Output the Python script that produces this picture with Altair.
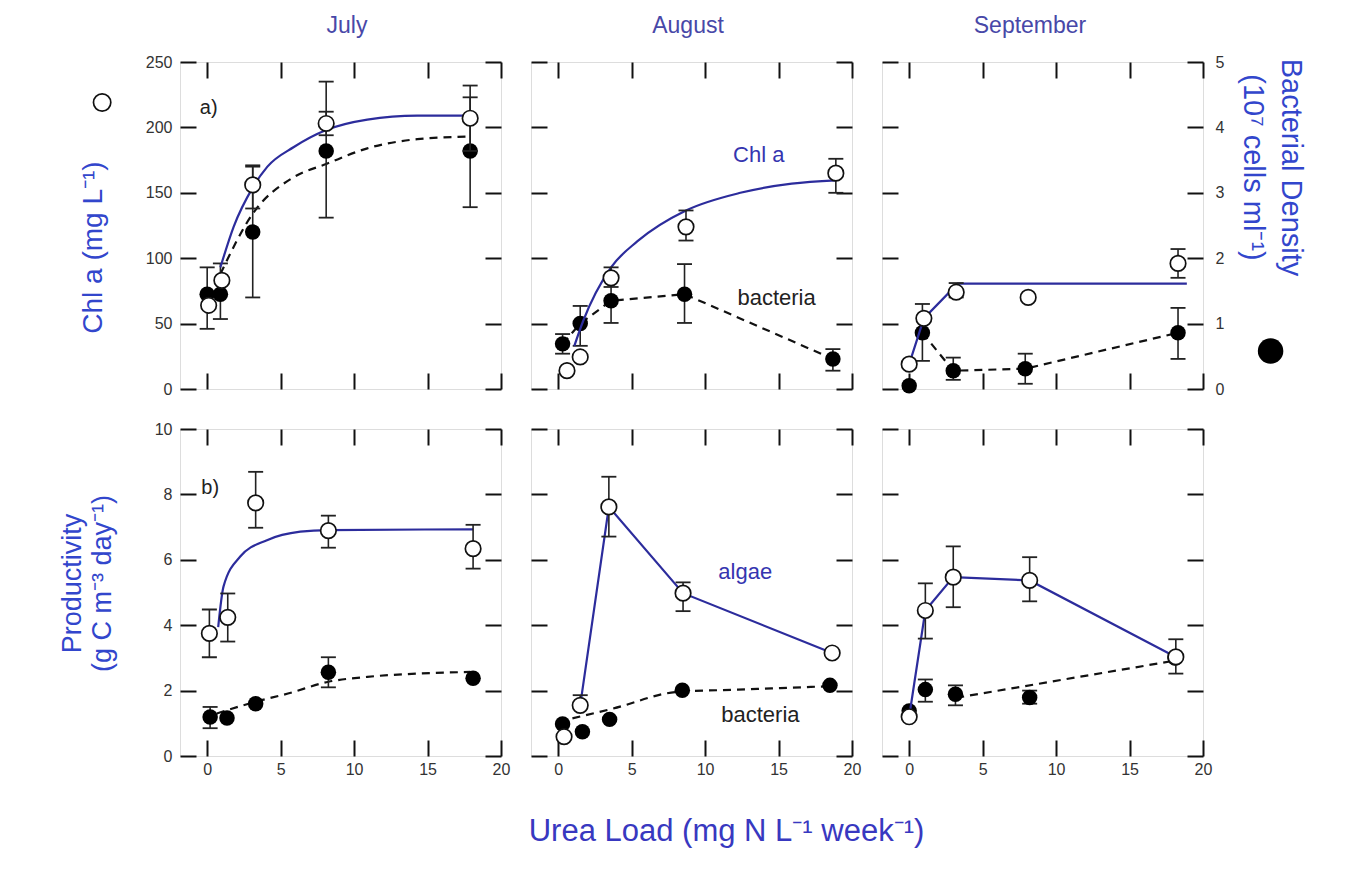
import altair as alt
import pandas as pd

FONT = "Liberation Sans"
BLUE_LINE = "#2c2c9c"
BLUE_COL = "#4848a8"
BLUE_AX = "#3246cc"
BLUE_ANN = "#3535b0"
INK = "#111111"

XTICKS = [0, 5, 10, 15, 20]
XDOM = [-1.85, 20]

# ---------------- top row: Chl a (open) and bacterial density (filled, 10^7 cells/ml)
jul_chl_x = [0.1, 1.0, 3.1, 8.1, 17.9]
jul_chl = [64, 83, 156, 203, 207]
jul_chl_lo = [None, None, 138, 194, 182]
jul_chl_hi = [None, None, 171, 212, 232]
jul_chl_fit_x = [0.9, 1.8, 3.1, 4.1, 5.9, 8.1, 10.9, 14.3, 18.0]
jul_chl_fit = [93, 124, 154, 170, 185, 198, 206, 209, 209]
jul_bd_x = [0.0, 0.9, 3.1, 8.1, 17.9]
jul_bd = [1.45, 1.45, 2.4, 3.64, 3.64]
jul_bd_lo = [0.92, 1.07, 1.4, 2.62, 2.78]
jul_bd_hi = [1.86, 1.92, 3.4, 4.7, 4.46]
jul_bd_fit_x = [0.9, 3.1, 5.9, 8.1, 10.9, 14.3, 17.8]
jul_bd_fit = [1.76, 2.68, 3.24, 3.44, 3.68, 3.82, 3.86]

aug_chl_x = [0.6, 1.5, 3.6, 8.7, 18.9]
aug_chl = [14, 24.5, 85, 124, 165]
aug_chl_lo = [None, None, 78, 113.5, 150]
aug_chl_hi = [None, None, 93, 136.5, 176]
aug_chl_fit_x = [1.1, 1.7, 3.6, 5.4, 8.7, 12.4, 15.9, 18.9]
aug_chl_fit = [33, 52, 93, 113, 136.5, 150, 157, 159.5]
aug_bd_x = [0.3, 1.5, 3.6, 8.6, 18.7]
aug_bd = [0.69, 1.0, 1.35, 1.45, 0.46]
aug_bd_lo = [0.54, 0.66, 1.01, 1.01, 0.28]
aug_bd_hi = [0.84, 1.27, 1.69, 1.91, 0.61]

sep_chl_x = [0.0, 1.0, 3.2, 8.1, 18.3]
sep_chl = [19, 54, 74, 70, 96]
sep_chl_lo = [None, None, 70, None, 85]
sep_chl_hi = [None, None, 81, None, 107]
sep_chl_fit_x = [0.0, 1.0, 3.3, 18.9]
sep_chl_fit = [19, 54, 80.5, 80.5]
sep_bd_x = [0.0, 0.9, 3.0, 7.9, 18.3]
sep_bd = [0.05, 0.86, 0.28, 0.31, 0.86]
sep_bd_lo = [None, 0.43, 0.14, 0.08, 0.46]
sep_bd_hi = [None, 1.30, 0.48, 0.54, 1.24]

# ---------------- bottom row: productivity of algae (open) and bacteria (filled)
jul_alg_x = [0.15, 1.4, 3.3, 8.25, 18.1]
jul_alg = [3.75, 4.24, 7.74, 6.89, 6.34]
jul_alg_lo = [3.02, 3.5, 6.98, 6.37, 5.73]
jul_alg_hi = [4.48, 4.97, 8.69, 7.35, 7.07]
jul_alg_fit_x = [0.75, 1.11, 2.25, 4.07, 6.34, 8.25, 18.1]
jul_alg_fit = [3.94, 5.18, 6.1, 6.6, 6.86, 6.91, 6.93]
jul_bp_x = [0.2, 1.35, 3.3, 8.25, 18.1]
jul_bp = [1.19, 1.16, 1.6, 2.56, 2.38]
jul_bp_lo = [0.85, None, None, 2.1, None]
jul_bp_hi = [1.5, None, None, 3.02, None]
jul_bp_fit_x = [0.65, 3.3, 5.5, 8.25, 10.9, 14.3, 17.9]
jul_bp_fit = [1.30, 1.66, 1.91, 2.27, 2.42, 2.52, 2.57]

aug_alg_x = [0.4, 1.5, 3.45, 8.5, 18.65]
aug_alg = [0.59, 1.55, 7.62, 4.98, 3.15]
aug_alg_lo = [None, 1.55, 6.71, 4.43, None]
aug_alg_hi = [None, 1.86, 8.54, 5.31, None]
aug_bp_x = [0.3, 1.65, 3.5, 8.45, 18.5]
aug_bp = [0.98, 0.74, 1.12, 2.01, 2.16]
aug_bp_lo = [None, None, None, None, None]
aug_bp_hi = [None, None, None, None, None]
aug_bp_fit_x = [0.97, 3.73, 8.1, 12.25, 18.25]
aug_bp_fit = [1.15, 1.45, 1.96, 2.03, 2.13]

sep_alg_x = [0.0, 1.1, 3.0, 8.2, 18.15]
sep_alg = [1.2, 4.45, 5.47, 5.37, 3.03]
sep_alg_lo = [None, 3.59, 4.55, 4.73, 2.52]
sep_alg_hi = [None, 5.28, 6.41, 6.08, 3.57]
sep_bp_x = [0.0, 1.1, 3.15, 8.2, 18.1]
sep_bp = [1.38, 2.03, 1.89, 1.79, 3.0]
sep_bp_lo = [None, 1.66, 1.55, 1.6, None]
sep_bp_hi = [None, 2.34, 2.16, 2.0, None]
sep_bp_fit_x = [3.2, 18.0]
sep_bp_fit = [1.78, 2.91]

MONTHS = ["July", "August", "September"]


def pts(x, y, lo, hi):
    return pd.DataFrame({"x": x, "y": y, "lo": lo, "hi": hi})


def line(x, y):
    return pd.DataFrame({"x": x, "y": y})


PANELS = [
    dict(A=pts(jul_chl_x, jul_chl, jul_chl_lo, jul_chl_hi), Af=line(jul_chl_fit_x, jul_chl_fit), Ai="monotone",
         B=pts(jul_bd_x, jul_bd, jul_bd_lo, jul_bd_hi), Bf=line(jul_bd_fit_x, jul_bd_fit), Bi="monotone"),
    dict(A=pts(aug_chl_x, aug_chl, aug_chl_lo, aug_chl_hi), Af=line(aug_chl_fit_x, aug_chl_fit), Ai="monotone",
         B=pts(aug_bd_x, aug_bd, aug_bd_lo, aug_bd_hi), Bf=line(aug_bd_x, aug_bd), Bi="linear"),
    dict(A=pts(sep_chl_x, sep_chl, sep_chl_lo, sep_chl_hi), Af=line(sep_chl_fit_x, sep_chl_fit), Ai="linear",
         B=pts(sep_bd_x, sep_bd, sep_bd_lo, sep_bd_hi), Bf=line(sep_bd_x[1:], sep_bd[1:]), Bi="linear"),
    dict(A=pts(jul_alg_x, jul_alg, jul_alg_lo, jul_alg_hi), Af=line(jul_alg_fit_x, jul_alg_fit), Ai="monotone",
         B=pts(jul_bp_x, jul_bp, jul_bp_lo, jul_bp_hi), Bf=line(jul_bp_fit_x, jul_bp_fit), Bi="monotone"),
    dict(A=pts(aug_alg_x, aug_alg, aug_alg_lo, aug_alg_hi), Af=line(aug_alg_x[1:], aug_alg[1:]), Ai="linear",
         B=pts(aug_bp_x, aug_bp, aug_bp_lo, aug_bp_hi), Bf=line(aug_bp_fit_x, aug_bp_fit), Bi="monotone"),
    dict(A=pts(sep_alg_x, sep_alg, sep_alg_lo, sep_alg_hi), Af=line(sep_alg_x, sep_alg), Ai="linear",
         B=pts(sep_bp_x, sep_bp, sep_bp_lo, sep_bp_hi), Bf=line(sep_bp_fit_x, sep_bp_fit), Bi="linear"),
]

W, H = 321, 327
TL = 16
COL_TITLE_X = [W / 2 + 6, W / 2 - 4, W / 2 - 13]


def axis(orient, values, labels, pad, **kw):
    opts = dict(orient=orient, values=values, labels=labels, offset=-TL, tickSize=TL, tickWidth=2,
                tickColor=INK, domain=False, grid=False, labelFontSize=16, labelFont=FONT,
                labelColor="#333333", labelPadding=pad, labelFlush=False, labelOverlap=False)
    opts.update(kw)
    if "title" not in opts:
        opts["title"] = None
    return alt.Axis(**opts)


def group(p, key, ydom, xax, yax, extra):
    d = p[key]
    xs = alt.Scale(domain=XDOM, nice=False, zero=False)
    ys = alt.Scale(domain=ydom, nice=False, zero=False)
    X = alt.X("x:Q", scale=xs, axis=xax)

    def Y(f):
        return alt.Y(f + ":Q", scale=ys, axis=yax)

    if key == "A":
        ln = alt.Chart(p["Af"]).mark_line(color=BLUE_LINE, strokeWidth=2.2, interpolate=p["Ai"])
        pt = alt.Chart(d).mark_circle(size=240, fill="white", stroke=INK, strokeWidth=1.7, opacity=1)
    else:
        ln = alt.Chart(p["Bf"]).mark_line(color=INK, strokeWidth=2.2, strokeDash=[8, 6], interpolate=p["Bi"])
        pt = alt.Chart(d).mark_circle(size=240, color="#000000", opacity=1)
    layers = [ln.encode(x=X, y=Y("y"))]
    err = d[d["hi"].notna()].copy()
    if len(err):
        err["lo"] = err["lo"].where(err["lo"].notna(), err["y"])
        layers.append(alt.Chart(err).mark_rule(color="#222222", strokeWidth=1.6).encode(x=X, y=Y("lo"), y2="hi:Q"))
        layers.append(alt.Chart(err).mark_tick(orient="horizontal", size=15, thickness=1.8, color="#222222",
                                               opacity=1).encode(x=X, y=Y("lo")))
        layers.append(alt.Chart(err).mark_tick(orient="horizontal", size=15, thickness=1.8, color="#222222",
                                               opacity=1).encode(x=X, y=Y("hi")))
    layers.append(pt.encode(x=X, y=Y("y")))
    for e in extra:
        layers.append(e.encode(x=X, y=Y("y")))
    return alt.layer(*layers)


def ann(x, y, t, color, size):
    return alt.Chart(pd.DataFrame({"x": [x], "y": [y], "t": [t]})).mark_text(
        align="left", baseline="middle", font=FONT, fontSize=size, color=color).encode(text="t:N")


charts = []
for i, p in enumerate(PANELS):
    row, col = divmod(i, 3)
    top = row == 0
    ydomA = [0, 250] if top else [0, 10]
    ydomB = [0, 5] if top else [0, 10]
    yvalsA = [0, 50, 100, 150, 200, 250] if top else [0, 2, 4, 6, 8, 10]
    yvalsB = [0, 1, 2, 3, 4, 5] if top else [0, 2, 4, 6, 8, 10]

    xkw = {}
    if i == 4:
        xkw = dict(title="Urea Load (mg N L\u207b\u00b9 week\u207b\u00b9)", titleFont=FONT, titleFontSize=31,
                   titleFontWeight="normal", titleColor="#3838c0", titleX=195, titleY=100,
                   titleAlign="center", titleBaseline="alphabetic")
    xA = axis("bottom", XTICKS, not top, 5, **xkw)
    xkwB = {}
    if top:
        xkwB = dict(title=MONTHS[col], titleFont=FONT, titleFontSize=23, titleFontWeight="normal",
                    titleColor=BLUE_COL, titleX=COL_TITLE_X[col], titleY=-46, titleAlign="center",
                    titleBaseline="alphabetic")
    xB = axis("top", XTICKS, False, 5, **xkwB)

    ykw = {}
    if i == 0:
        ykw = dict(title="Chl a (mg L\u207b\u00b9)", titleFont=FONT, titleFontSize=28, titleFontWeight="normal",
                   titleColor=BLUE_AX, titleX=-103, titleY=185, titleAlign="center", titleBaseline="middle",
                   titleAngle=270)
    if i == 3:
        ykw = dict(title=["Productivity", "(g C m\u207b\u00b3 day\u207b\u00b9)"], titleFont=FONT, titleFontSize=27,
                   titleFontWeight="normal", titleColor=BLUE_AX, titleX=-124, titleY=154, titleAlign="center",
                   titleBaseline="middle", titleAngle=270, titleLineHeight=30)
    yA = axis("left", yvalsA, col == 0, 8, **ykw)

    ykwB = {}
    if i == 2:
        ykwB = dict(title=["Bacterial Density", "(10\u2077 cells ml\u207b\u00b9)"], titleFont=FONT, titleFontSize=29,
                    titleFontWeight="normal", titleColor=BLUE_AX, titleX=103, titleY=105, titleAlign="center",
                    titleBaseline="middle", titleAngle=90, titleLineHeight=38)
    yB = axis("right", yvalsB, i == 2, 12, **ykwB)

    extraA, extraB = [], []
    if i == 0:
        extraA.append(ann(-0.5, 215, "a)", "#222222", 20))
        extraA.append(alt.Chart(pd.DataFrame({"x": [-7.15], "y": [219]})).mark_circle(
            size=300, fill="white", stroke=INK, strokeWidth=1.7, opacity=1))
    if i == 1:
        extraA.append(ann(11.9, 179, "Chl a", BLUE_ANN, 22))
        extraA.append(ann(12.2, 69.6, "bacteria", "#222222", 22))
    if i == 2:
        extraB.append(alt.Chart(pd.DataFrame({"x": [24.6], "y": [0.58]})).mark_circle(
            size=650, color="#000000", opacity=1))
    if i == 3:
        extraA.append(ann(-0.4, 8.2, "b)", "#222222", 20))
    if i == 4:
        extraA.append(ann(10.9, 5.63, "algae", BLUE_ANN, 22))
        extraA.append(ann(11.1, 1.25, "bacteria", "#222222", 22))

    gB = group(p, "B", ydomB, xB, yB, extraB)
    gA = group(p, "A", ydomA, xA, yA, extraA)
    charts.append(alt.layer(gB, gA).resolve_scale(x="independent", y="independent").properties(width=W, height=H))

chart = alt.concat(*charts, columns=3, spacing={"row": 40, "column": 30}).properties(
    bounds="flush", padding={"left": 49, "top": 5, "right": 10, "bottom": 10}
).configure_view(stroke="#444444", strokeWidth=2).configure(background="white")

chart.save("out.html", embed_options={"renderer": "svg", "actions": False})
